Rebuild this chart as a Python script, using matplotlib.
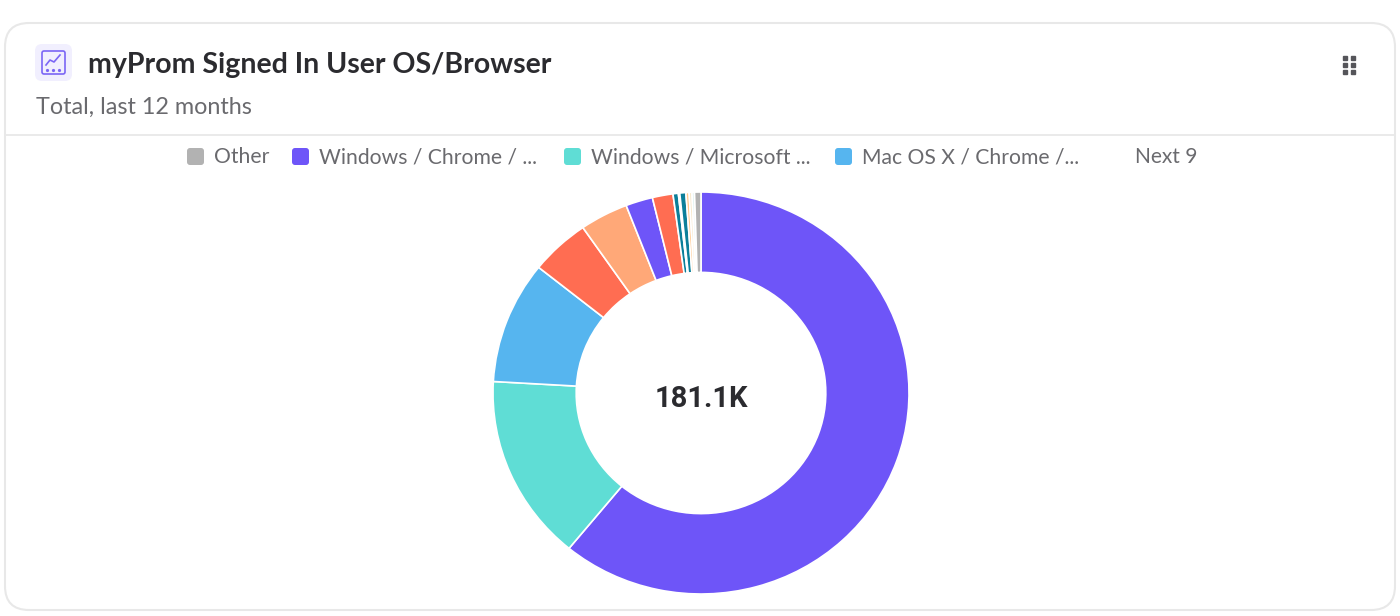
import matplotlib
matplotlib.use('Agg')
import matplotlib.pyplot as plt
from matplotlib.patches import FancyBboxPatch

plt.rcParams['font.family'] = ['Lato', 'DejaVu Sans']

# Slice values in thousands, clockwise from 12 o'clock
slice_values = [110.3, 27.1, 17.8, 8.4, 6.8, 3.8, 2.9, 0.75, 0.2, 0.85, 0.45, 0.4, 0.35, 0.9]
slice_colors = ['#6E55F8', '#5FDDD5', '#56B5EF', '#FF6D52', '#FFA878', '#6E55F8', '#FF6D52',
                '#0B7F9A', '#E8F6F6', '#0B7F9A', '#FFC98F', '#F7E9CC', '#DDF1EF', '#B2B2B2']

center_label = '181.1K'
title = 'myProm Signed In User OS/Browser'
subtitle = 'Total, last 12 months'
legend_labels = ['Other', 'Windows / Chrome / ...', 'Windows / Microsoft ...', 'Mac OS X / Chrome /...']
legend_colors = ['#B2B2B2', '#6E55F8', '#5FDDD5', '#56B5EF']
legend_more = 'Next 9'

fig = plt.figure(figsize=(14, 6.16), dpi=100)
bg = fig.add_axes([0, 0, 1, 1])
bg.set_xlim(0, 1400)
bg.set_ylim(616, 0)
bg.axis('off')

# Card outline and header rule
bg.add_patch(FancyBboxPatch((5, 23), 1390, 587, boxstyle='round,pad=0,rounding_size=24',
                            fc='none', ec='#E8E8E8', lw=1.5, zorder=0))
bg.plot([5, 1395], [134.5, 134.5], color='#E8E8E8', lw=1.3)

# Header icon
bg.add_patch(FancyBboxPatch((35, 44), 37, 37, boxstyle='round,pad=0,rounding_size=7',
                            fc='#F1EFFE', ec='none'))
bg.add_patch(FancyBboxPatch((42, 51), 23, 23, boxstyle='round,pad=0,rounding_size=2',
                            fc='none', ec='#7B66F5', lw=1.2))
bg.plot([46, 50, 54, 60], [65, 60, 62, 55], color='#7B66F5', lw=1.2)
bg.plot([47, 53, 59], [70, 70, 70], ls='none', marker='o', ms=1.3, color='#7B66F5')

bg.text(88, 73, title, fontsize=20.5, fontweight='bold', color='#2B2B2F', va='baseline', ha='left')
bg.text(36, 114, subtitle, fontsize=16.8, color='#6A6A6E', va='baseline', ha='left')

# Drag handle dots
bg.plot([1345, 1345, 1345, 1353, 1353, 1353], [58, 65, 72, 58, 65, 72],
        ls='none', marker='s', ms=2.4, color='#55555A')

# Legend row
for x, label, color in zip([187, 292, 564, 835], legend_labels, legend_colors):
    bg.add_patch(FancyBboxPatch((x, 148), 17, 17, boxstyle='round,pad=0,rounding_size=3',
                                fc=color, ec='none'))
    bg.text(x + 27, 163, label, fontsize=15.2, color='#6A6A6E', va='baseline', ha='left')
bg.text(1135, 163, legend_more, fontsize=15, color='#6A6A6E', va='baseline', ha='left')

# Donut, its axes is a little wider than tall like the reference
cx, cy, rx, ry = 701, 393, 208, 201
ax = fig.add_axes([(cx - rx) / 1400, (616 - cy - ry) / 616, 2 * rx / 1400, 2 * ry / 616])
ax.pie(slice_values, colors=slice_colors, startangle=90, counterclock=False, radius=1,
       wedgeprops=dict(width=0.4, edgecolor='white', linewidth=1.2))
ax.set_aspect('auto')
ax.set_xlim(-1, 1)
ax.set_ylim(-1, 1)
bg.text(cx, 407, center_label, fontsize=21, fontweight='bold', family=['Roboto', 'DejaVu Sans'],
        color='#2B2B2F', ha='center', va='baseline', zorder=5)
bg.set_zorder(2)
bg.patch.set_visible(False)

fig.savefig('out.png', dpi=100)
